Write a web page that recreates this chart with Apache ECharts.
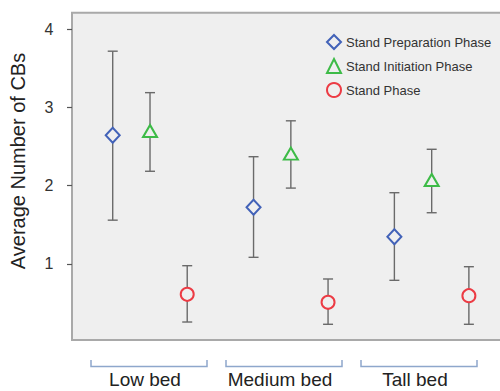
<!DOCTYPE html>
<html>
<head>
<meta charset="utf-8">
<script src="https://cdn.jsdelivr.net/npm/echarts@6/dist/echarts.min.js"></script>
<style>
html,body{margin:0;padding:0;background:#fff;}
#chart{width:500px;height:391px;}
</style>
</head>
<body>
<div id="chart"></div>
<script>
const categories = ['Low bed', 'Medium bed', 'Tall bed'];
const phaseNames = ['Stand Preparation Phase', 'Stand Initiation Phase', 'Stand Phase'];
const prepMean = [2.645, 1.724, 1.349];
const prepLow  = [1.56, 1.085, 0.791];
const prepHigh = [3.72, 2.371, 1.911];
const initMean = [2.70, 2.41, 2.073];
const initLow  = [2.185, 1.97, 1.655];
const initHigh = [3.19, 2.83, 2.466];
const standMean = [0.612, 0.51, 0.595];
const standLow  = [0.258, 0.229, 0.229];
const standHigh = [0.978, 0.808, 0.965];
const yTickValues = [1, 2, 3, 4];
const yTitle = 'Average Number of CBs';

const FONT = '"Liberation Sans", Arial, Helvetica, sans-serif';
const colors = ['#4262b8', '#3dbb47', '#ec3b44'];
const symbols = ['diamond', 'triangle', 'circle'];
const symbolSizes = [[14, 15], [14, 12], 13];
const offsets = [-37.3, 0, 37.2];
const panelColor = '#efefef';

const phases = [
  {mean: prepMean, low: prepLow, high: prepHigh},
  {mean: initMean, low: initLow, high: initHigh},
  {mean: standMean, low: standLow, high: standHigh}
];

const series = [];
phases.forEach((p, k) => {
  series.push({
    type: 'custom',
    name: phaseNames[k] + ' err',
    xAxisIndex: 1, yAxisIndex: 1,
    z: 2,
    silent: true,
    data: categories.map((c, i) => [i, p.low[i], p.high[i]]),
    encode: {x: 0, y: [1, 2]},
    renderItem: function (params, api) {
      const lo = api.coord([api.value(0), api.value(1)]);
      const hi = api.coord([api.value(0), api.value(2)]);
      const x = lo[0] + offsets[k];
      const cap = 5;
      const st = {stroke: '#6a6a6a', lineWidth: 1.4};
      return {
        type: 'group',
        children: [
          {type: 'line', shape: {x1: x, y1: lo[1], x2: x, y2: hi[1]}, style: st},
          {type: 'line', shape: {x1: x - cap, y1: lo[1], x2: x + cap, y2: lo[1]}, style: st},
          {type: 'line', shape: {x1: x - cap, y1: hi[1], x2: x + cap, y2: hi[1]}, style: st}
        ]
      };
    }
  });
  series.push({
    type: 'scatter',
    name: phaseNames[k],
    xAxisIndex: 1, yAxisIndex: 1,
    z: 3,
    symbol: symbols[k],
    symbolSize: symbolSizes[k],
    symbolOffset: [offsets[k], 0],
    itemStyle: {color: panelColor, borderColor: colors[k], borderWidth: 2, opacity: 1},
    data: p.mean
  });
});

// brackets under the plot
series.push({
  type: 'custom',
  name: 'brackets',
  xAxisIndex: 2, yAxisIndex: 2,
  silent: true,
  data: categories.map((c, i) => [i, 0]),
  renderItem: function (params, api) {
    const base = api.coord([api.value(0), 0]);
    const top = api.coord([api.value(0), 1]);
    const half = 58;
    const cx = base[0] + 4;
    const yb = base[1] - 0.5;
    const st = {stroke: '#8ea7cc', lineWidth: 1.5, fill: null};
    return {
      type: 'polyline',
      shape: {points: [[cx - half, top[1] + 1], [cx - half, yb], [cx + half, yb], [cx + half, top[1] + 1]]},
      style: st
    };
  }
});

const chart = echarts.init(document.getElementById('chart'), null, {renderer: 'svg'});
chart.setOption({
  animation: false,
  backgroundColor: '#ffffff',
  textStyle: {fontFamily: FONT},
  grid: [
    {left: 72, top: 12.7, width: 429, height: 327.3, show: true, backgroundColor: panelColor,
     borderColor: '#a9a9a9', borderWidth: 2, outerBoundsMode: 'none'},
    {left: 79.6, top: 12.7, width: 422.5, height: 329.5, outerBoundsMode: 'none'},
    {left: 77.5, top: 359, width: 405, height: 8, outerBoundsMode: 'none'}
  ],
  xAxis: [
    {gridIndex: 0, type: 'value', show: false, min: 0, max: 1},
    {gridIndex: 1, type: 'category', data: categories, show: false},
    {gridIndex: 2, type: 'category', data: categories, position: 'bottom',
     axisLine: {show: false}, axisTick: {show: false}, splitLine: {show: false},
     axisLabel: {show: true, interval: 0, hideOverlap: false, margin: 3, color: '#222',
                 fontSize: 19, fontFamily: FONT}}
  ],
  yAxis: [
    {gridIndex: 0, type: 'value', show: false, min: 0, max: 1},
    {gridIndex: 1, type: 'value', min: 0, max: 4.212, interval: 1, offset: 7.6,
     axisLine: {show: false},
     axisTick: {show: true, length: 5, inside: false, customValues: yTickValues,
                lineStyle: {color: '#555', width: 1.2}},
     axisLabel: {show: true, margin: 18.5, color: '#333', fontSize: 16, fontFamily: FONT,
                 customValues: yTickValues},
     splitLine: {show: false}},
    {gridIndex: 2, type: 'value', show: false, min: 0, max: 1}
  ],
  legend: {
    orient: 'vertical',
    left: 321, top: 29,
    itemWidth: 14, itemHeight: 14, itemGap: 8,
    textStyle: {fontSize: 13, color: '#333', fontFamily: FONT},
    data: phaseNames
  },
  graphic: [{
    type: 'text',
    x: 18, y: 161,
    rotation: Math.PI / 2,
    style: {text: yTitle, fontSize: 20, fontFamily: FONT, fill: '#222',
            textAlign: 'center', textVerticalAlign: 'middle'}
  }],
  series: series
});
</script>
</body>
</html>
